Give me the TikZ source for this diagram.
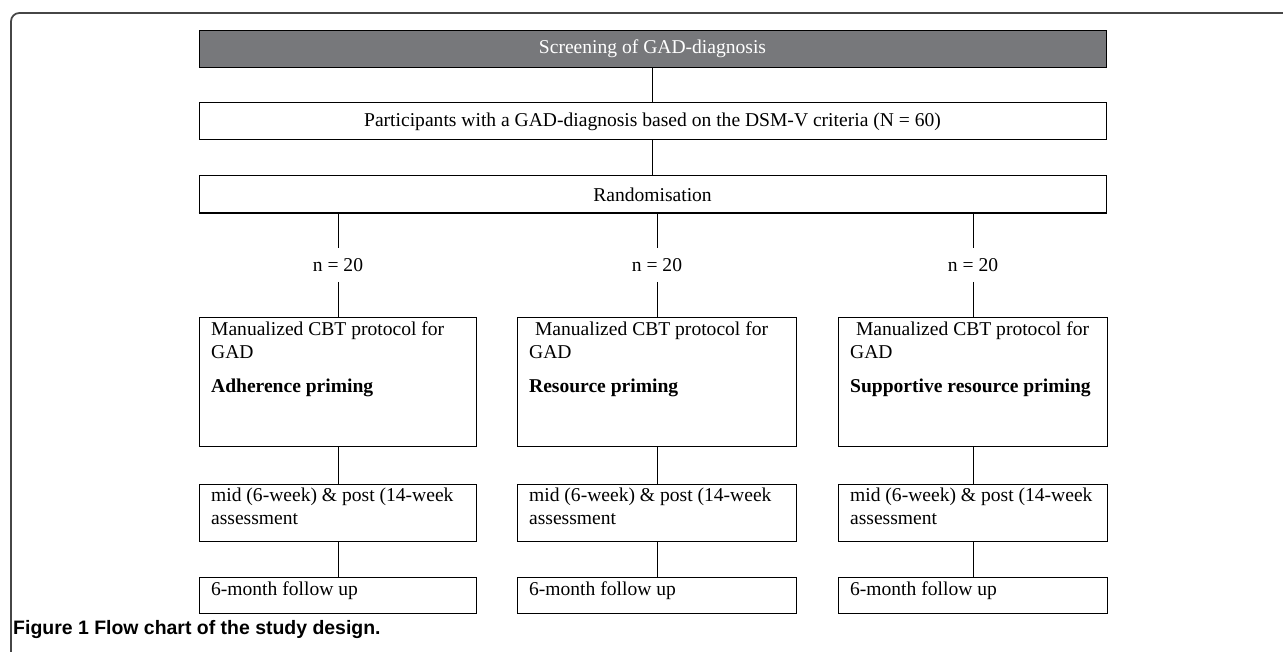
\documentclass[tikz,border=0pt]{standalone}
\usepackage{fontspec}
\setmainfont{Liberation Serif}
\newfontfamily\capfont{Liberation Sans}
\usetikzlibrary{positioning}
\definecolor{headgray}{RGB}{119,120,123}
\definecolor{framegray}{RGB}{70,70,70}
\newcommand{\boxtext}[3]{\parbox[t][#1][t]{#2}{\raggedright #3}}
\tikzset
{
    bodyfont/.style  = {font=\fontsize{16.7}{19.5}\selectfont},
    topbox/.style    = {draw, line width=0.8pt, bodyfont, minimum width=27.21cm, minimum height=1.11cm, inner sep=0pt, align=center},
    headbox/.style   = {topbox, fill=headgray, text=white},
    colbox/.style    = {draw, line width=0.8pt, bodyfont, inner xsep=0.35cm, inner ysep=0.12cm},
    countnode/.style = {bodyfont, minimum height=1.02cm, inner sep=0pt},
    link/.style      = {line width=0.8pt},
    caption/.style   = {font=\capfont\bfseries\fontsize{16.6}{19}\selectfont, inner sep=0pt, anchor=west}
}

\begin{document}
\begin{tikzpicture}[x=0.03cm, y=-0.03cm]
    \useasboundingbox (0,0) rectangle (1283,652);
    \draw [framegray, line width=1.5pt, rounded corners=0.25cm] (11,652) -- (11,13) -- (1283,13);

    \node [headbox] (screen) at (652.5,48.5) {Screening of GAD-diagnosis};
    \node [topbox, below=1.05cm of screen] (part) {Participants with a GAD-diagnosis based on the DSM-V criteria (N = 60)};
    \node [topbox, below=1.05cm of part] (rand) {Randomisation};
    \draw [line width=1.6pt] (rand.south west) -- (rand.south east);

    \node [colbox, anchor=north west] (adh) at (199,317)
        {\boxtext{3.63cm}{7.61cm}{Manualized CBT protocol for\\GAD\par\vspace{10pt}\textbf{Adherence priming}}};
    \node [colbox, anchor=north west] (res) at (517,317)
        {\boxtext{3.63cm}{7.67cm}{\hspace*{0.3em}Manualized CBT protocol for\\GAD\par\vspace{10pt}\textbf{Resource priming}}};
    \node [colbox, anchor=north west] (sup) at (838,317)
        {\boxtext{3.63cm}{7.37cm}{\hspace*{0.3em}Manualized CBT protocol for\\GAD\par\vspace{10pt}\textbf{Supportive resource priming}}};

    \node [countnode, above=1.05cm of adh] (nadh) {n = 20};
    \node [countnode, above=1.05cm of res] (nres) {n = 20};
    \node [countnode, above=1.05cm of sup] (nsup) {n = 20};

    \node [colbox, below=1.11cm of adh] (midadh) {\boxtext{1.47cm}{7.61cm}{mid (6-week) \& post (14-week\\assessment}};
    \node [colbox, below=1.11cm of res] (midres) {\boxtext{1.47cm}{7.67cm}{mid (6-week) \& post (14-week\\assessment}};
    \node [colbox, below=1.11cm of sup] (midsup) {\boxtext{1.47cm}{7.37cm}{mid (6-week) \& post (14-week\\assessment}};

    \node [colbox, below=1.05cm of midadh] (fupadh) {\boxtext{0.84cm}{7.61cm}{6-month follow up}};
    \node [colbox, below=1.05cm of midres] (fupres) {\boxtext{0.84cm}{7.67cm}{6-month follow up}};
    \node [colbox, below=1.05cm of midsup] (fupsup) {\boxtext{0.84cm}{7.37cm}{6-month follow up}};

    \draw [link] (screen) -- (part);
    \draw [link] (part) -- (rand);
    \foreach \arm in {adh,res,sup}
    {
        \draw [link] (rand.south -| n\arm.north) -- (n\arm.north);
        \draw [link] (n\arm.south) -- (\arm.north);
        \draw [link] (\arm.south) -- (mid\arm.north);
        \draw [link] (mid\arm.south) -- (fup\arm.north);
    }

    \node [caption] (cap) at (13,630) {Figure 1 Flow chart of the study design.};
\end{tikzpicture}
\end{document}
